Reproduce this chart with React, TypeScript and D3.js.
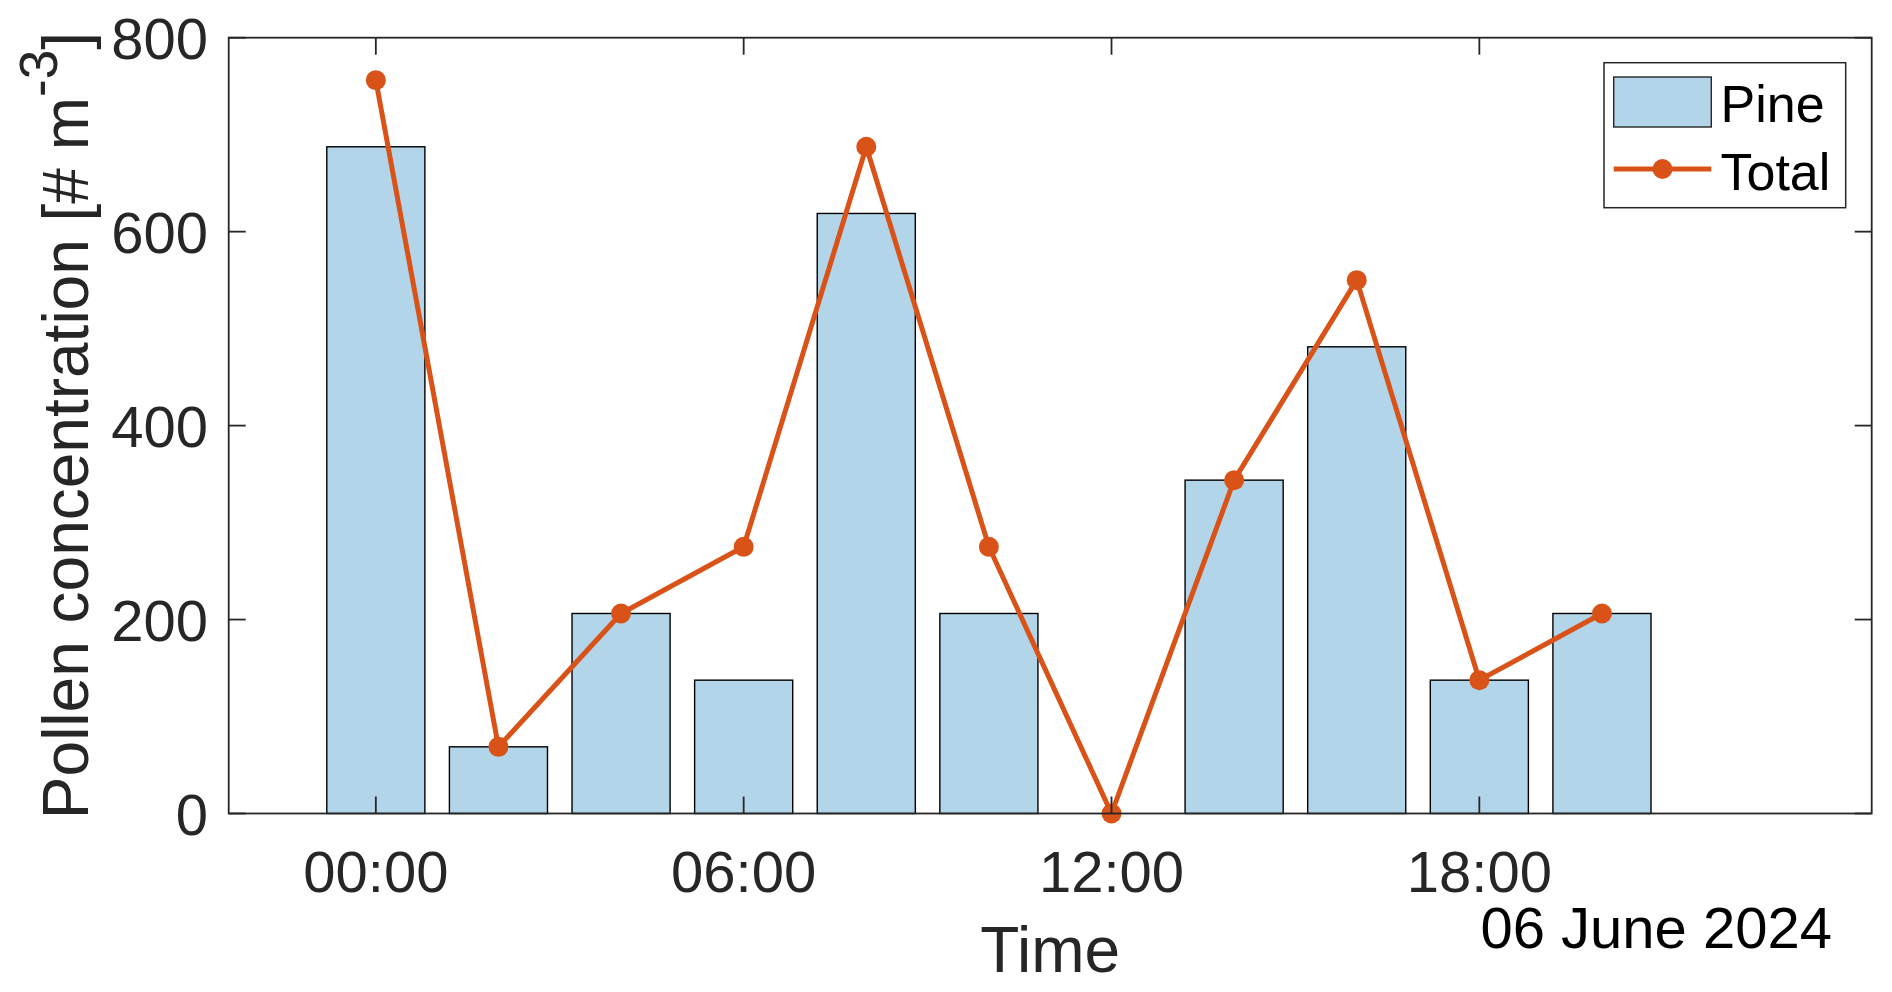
import React from 'react';
import * as d3 from 'd3';

// hours after midnight, 06 June 2024
const hours = [0, 2, 4, 6, 8, 10, 12, 14, 16, 18, 20];
const pine = [687.5, 68.75, 206.25, 137.5, 618.75, 206.25, 0, 343.75, 481.25, 137.5, 206.25];
const total = [756.25, 68.75, 206.25, 275, 687.5, 275, 0, 343.75, 550, 137.5, 206.25];
const xTicks = [0, 6, 12, 18];
const xTickLabels = ['00:00', '06:00', '12:00', '18:00'];
const yTicks = [0, 200, 400, 600, 800];

const W = 1892;
const H = 992;
const margin = { top: 37.7, right: 20.3, bottom: 178.5, left: 228.7 };

const AXIS = '#262626';
const ORANGE = '#D95319';
const BLUE = '#B3D5EA';
const FONT = '"Liberation Sans", Arial, Helvetica, sans-serif';

const App = () => {
  const x = d3.scaleLinear()
    .domain([-2.4, 24.4])
    .range([margin.left, W - margin.right]);
  const y = d3.scaleLinear()
    .domain([0, 800])
    .range([H - margin.bottom, margin.top]);

  const barW = x(1.6) - x(0);
  const x0 = x.range()[0];
  const x1 = x.range()[1];
  const y0 = y.range()[0];
  const y1 = y.range()[1];
  const tickLen = 17;

  const line = d3.line<number>()
    .x((_, i) => x(hours[i]))
    .y(d => y(d));

  // legend box
  const lg = { x: 1604, y: 62.7, w: 241.7, h: 145 };

  return (
    <svg width={W} height={H} style={{ position: 'absolute', left: 0, top: 0 }} fontFamily={FONT}>
      <rect width={W} height={H} fill="#fff" />

      {pine.map((v, i) => (
        <rect
          key={i}
          x={x(hours[i]) - barW / 2}
          y={y(v)}
          width={barW}
          height={y(0) - y(v)}
          fill={BLUE}
          stroke="#000"
          strokeWidth={1.4}
        />
      ))}

      <path d={line(total) || ''} fill="none" stroke={ORANGE} strokeWidth={5} strokeLinejoin="round" />
      {total.map((v, i) => (
        <circle key={i} cx={x(hours[i])} cy={y(v)} r={10} fill={ORANGE} />
      ))}

      {/* axes box and ticks */}
      <g stroke={AXIS} strokeWidth={1.8} fill="none">
        <rect x={x0} y={y1} width={x1 - x0} height={y0 - y1} />
        {xTicks.map(t => (
          <g key={t}>
            <line x1={x(t)} x2={x(t)} y1={y0} y2={y0 - tickLen} />
            <line x1={x(t)} x2={x(t)} y1={y1} y2={y1 + tickLen} />
          </g>
        ))}
        {yTicks.map(t => (
          <g key={t}>
            <line x1={x0} x2={x0 + tickLen} y1={y(t)} y2={y(t)} />
            <line x1={x1} x2={x1 - tickLen} y1={y(t)} y2={y(t)} />
          </g>
        ))}
      </g>

      {xTicks.map((t, i) => (
        <text key={t} x={x(t)} y={892} textAnchor="middle" fontSize={58} fill={AXIS}>
          {xTickLabels[i]}
        </text>
      ))}
      {yTicks.map(t => (
        <text key={t} x={208} y={y(t) + 21} textAnchor="end" fontSize={58} fill={AXIS}>
          {t}
        </text>
      ))}

      <text x={(x0 + x1) / 2} y={972} textAnchor="middle" fontSize={64} fill={AXIS}>Time</text>
      <text x={1832} y={948} textAnchor="end" fontSize={58} fill="#000">06 June 2024</text>

      <text
        transform={`translate(88,${(y0 + y1) / 2}) rotate(-90)`}
        textAnchor="middle"
        fontSize={64}
        fill={AXIS}
      >
        Pollen concentration [# m
        <tspan fontSize={53} dy={-31}>-3</tspan>
        <tspan dy={31}>]</tspan>
      </text>

      {/* legend */}
      <rect x={lg.x} y={lg.y} width={lg.w} height={lg.h} fill="#fff" stroke={AXIS} strokeWidth={1.5} />
      <rect x={1613.7} y={77} width={97.6} height={50} fill={BLUE} stroke={AXIS} strokeWidth={1.4} />
      <text x={1720.5} y={121.7} fontSize={52} fill="#000">Pine</text>
      <line x1={1613.7} x2={1711.3} y1={169} y2={169} stroke={ORANGE} strokeWidth={5} />
      <circle cx={1662.5} cy={169} r={10} fill={ORANGE} />
      <text x={1720.5} y={190} fontSize={52} fill="#000">Total</text>
    </svg>
  );
};

export default App;
